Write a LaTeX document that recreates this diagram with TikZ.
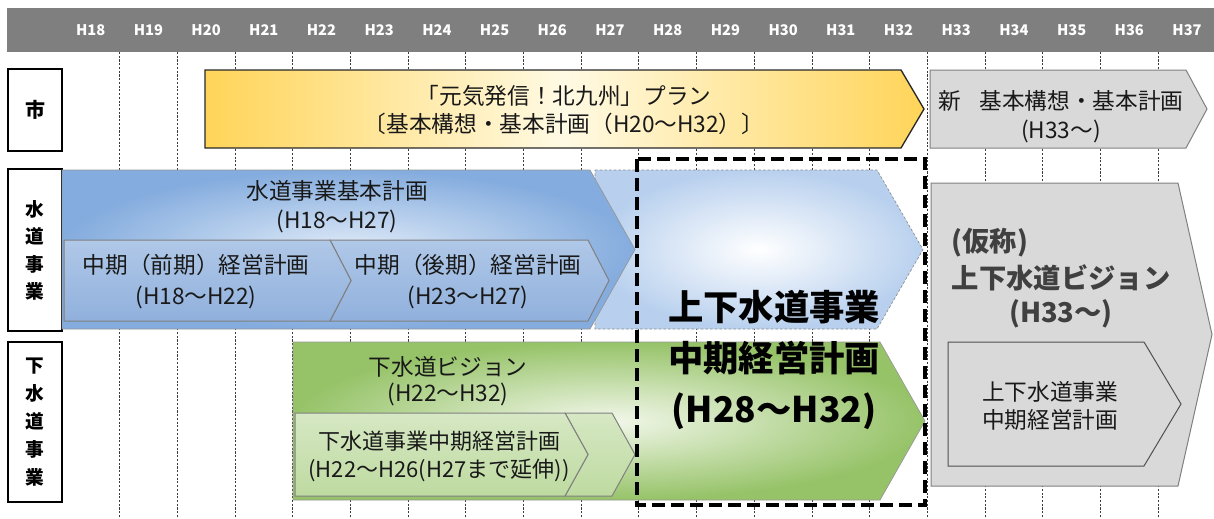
\documentclass[tikz,border=0pt]{standalone}
\usepackage{fontspec}
\setmainfont{Noto Sans CJK JP}

\tikzset{every picture/.style={line width=0.75pt}}
\tikzset{
  yearlbl/.style={text=white, font=\fontsize{11}{12}\selectfont\bfseries, inner sep=0.75pt},
  gridline/.style={color={rgb, 255:red, 60; green, 60; blue, 60}, line width=0.5pt, dash pattern={on 1.6pt off 1.2pt}},
  rowbox/.style={draw=black, line width=1.6pt, fill=white},
  rowtxt/.style={font=\fontsize{14}{20.5}\selectfont\bfseries, align=center, inner sep=0.75pt},
  plantxt/.style={font=\fontsize{17}{22}\selectfont, align=center, inner sep=0.75pt, text={rgb, 255:red, 25; green, 25; blue, 25}},
  bigtxt/.style={font=\fontsize{26.5}{38}\selectfont\bfseries, align=center, inner sep=0.75pt},
  visiontxt/.style={font=\fontsize{20.5}{25}\selectfont\bfseries, align=center, inner sep=0.75pt, text={rgb, 255:red, 64; green, 64; blue, 64}},
  edgegray/.style={draw={rgb, 255:red, 128; green, 128; blue, 128}, line width=0.75pt}
}

\begin{document}
\begin{tikzpicture}[x=0.75pt,y=0.75pt,yscale=-1,xscale=1]
\useasboundingbox (0,0) rectangle (1214,518);

%Shape: Rectangle [year bar]
\draw [draw=none, fill={rgb, 255:red, 127; green, 127; blue, 127}] (7,8) -- (1214,8) -- (1214,52) -- (7,52) -- cycle;

% Text Node
\draw (90.7,30) node [yearlbl] (h18) {H18};
% Text Node
\draw (148.4,30) node [yearlbl] (h19) {H19};
% Text Node
\draw (206.1,30) node [yearlbl] (h20) {H20};
% Text Node
\draw (263.8,30) node [yearlbl] (h21) {H21};
% Text Node
\draw (321.5,30) node [yearlbl] (h22) {H22};
% Text Node
\draw (379.2,30) node [yearlbl] (h23) {H23};
% Text Node
\draw (436.9,30) node [yearlbl] (h24) {H24};
% Text Node
\draw (494.6,30) node [yearlbl] (h25) {H25};
% Text Node
\draw (552.3,30) node [yearlbl] (h26) {H26};
% Text Node
\draw (610,30) node [yearlbl] (h27) {H27};
% Text Node
\draw (667.7,30) node [yearlbl] (h28) {H28};
% Text Node
\draw (725.4,30) node [yearlbl] (h29) {H29};
% Text Node
\draw (783.1,30) node [yearlbl] (h30) {H30};
% Text Node
\draw (840.8,30) node [yearlbl] (h31) {H31};
% Text Node
\draw (898.5,30) node [yearlbl] (h32) {H32};
% Text Node
\draw (956.2,30) node [yearlbl] (h33) {H33};
% Text Node
\draw (1013.9,30) node [yearlbl] (h34) {H34};
% Text Node
\draw (1071.6,30) node [yearlbl] (h35) {H35};
% Text Node
\draw (1129.3,30) node [yearlbl] (h36) {H36};
% Text Node
\draw (1187,30) node [yearlbl] (h37) {H37};

%Straight Lines [year grid]
\draw [gridline] (119.5,52) -- (119.5,518);
\draw [gridline] (177.2,52) -- (177.2,518);
\draw [gridline] (234.9,52) -- (234.9,518);
\draw [gridline] (292.6,52) -- (292.6,518);
\draw [gridline] (350.3,52) -- (350.3,518);
\draw [gridline] (408,52) -- (408,518);
\draw [gridline] (465.7,52) -- (465.7,518);
\draw [gridline] (523.4,52) -- (523.4,518);
\draw [gridline] (581.1,52) -- (581.1,518);
\draw [gridline] (638.8,52) -- (638.8,518);
\draw [gridline] (696.5,52) -- (696.5,518);
\draw [gridline] (754.2,52) -- (754.2,518);
\draw [gridline] (811.9,52) -- (811.9,518);
\draw [gridline] (869.6,52) -- (869.6,518);
\draw [gridline] (927.3,52) -- (927.3,518);
\draw [gridline] (985,52) -- (985,518);
\draw [gridline] (1042.7,52) -- (1042.7,518);
\draw [gridline] (1100.4,52) -- (1100.4,518);
\draw [gridline] (1158.1,52) -- (1158.1,518);

%Shape: Rectangle [row labels]
\draw [rowbox] (8,69) rectangle (62,151);
\draw [rowbox] (8,169) rectangle (62,331);
\draw [rowbox] (8,342) rectangle (62,502);
% Text Node
\draw (35,110) node [rowtxt, font=\fontsize{15}{20}\selectfont\bfseries] (shi) {市};
% Text Node
\draw (35,250.5) node [rowtxt] (suido) {水\\道\\事\\業};
% Text Node
\draw (35,422) node [rowtxt, font=\fontsize{14}{21}\selectfont\bfseries] (gesuido) {下\\水\\道\\事\\業};

%Shape: Pentagon [city plan]
\draw [draw={rgb, 255:red, 40; green, 40; blue, 40}, line width=1pt, left color={rgb, 255:red, 255; green, 212; blue, 88}, right color={rgb, 255:red, 255; green, 212; blue, 88}, middle color={rgb, 255:red, 255; green, 250; blue, 228}] (205,70) -- (901,70) -- (924,109) -- (901,148) -- (205,148) -- cycle;
% Text Node
\draw (564,110) node [plantxt, font=\fontsize{17}{21}\selectfont] (cityplan) {「元気発信！北九州」プラン\\〔基本構想・基本計画（H20～H32）〕};

%Shape: Pentagon [new city plan]
\draw [edgegray, fill={rgb, 255:red, 217; green, 217; blue, 217}] (930,70) -- (1186,70) -- (1207,109) -- (1186,148) -- (930,148) -- cycle;
% Text Node
\draw (1061,117) node [plantxt] (newplan) {新\hspace{0.8em}基本構想・基本計画\\(H33～)};

%Shape: Pentagon [water faded]
\draw [draw={rgb, 255:red, 140; green, 140; blue, 140}, line width=0.5pt, dash pattern={on 2pt off 1.5pt}, inner color=white, outer color={rgb, 255:red, 184; green, 208; blue, 238}] (595,170) -- (877,170) -- (923,249.5) -- (877,329) -- (595,329) -- cycle;

%Shape: Pentagon [water plan]
\draw [draw={rgb, 255:red, 150; green, 150; blue, 150}, line width=0.5pt, inner color={rgb, 255:red, 224; green, 235; blue, 248}, outer color={rgb, 255:red, 132; green, 172; blue, 222}] (62,170) -- (590,170) -- (635,249.5) -- (590,329) -- (62,329) -- cycle;
% Text Node
\draw (337,207) node [plantxt] (waterplan) {水道事業基本計画\\(H18～H27)};

%Shape: Chevron [water late]
\draw [edgegray, top color={rgb, 255:red, 176; green, 200; blue, 232}, bottom color={rgb, 255:red, 144; green, 176; blue, 220}] (330,240) -- (588,240) -- (609,280.5) -- (588,321) -- (330,321) -- (351,280.5) -- cycle;
%Shape: Pentagon [water early]
\draw [edgegray, top color={rgb, 255:red, 176; green, 200; blue, 232}, bottom color={rgb, 255:red, 144; green, 176; blue, 220}] (64,240) -- (330,240) -- (351,280.5) -- (330,321) -- (64,321) -- cycle;
% Text Node
\draw (196,281.5) node [plantxt, font=\fontsize{17}{23}\selectfont] (early) {中期（前期）経営計画\\(H18～H22)};
% Text Node
\draw (468,281.5) node [plantxt, font=\fontsize{17}{23}\selectfont] (late) {中期（後期）経営計画\\(H23～H27)};

%Shape: Pentagon [sewer vision]
\draw [draw={rgb, 255:red, 150; green, 150; blue, 150}, line width=0.5pt, inner color={rgb, 255:red, 242; green, 247; blue, 234}, outer color={rgb, 255:red, 150; green, 195; blue, 104}] (293,342) -- (880,342) -- (925,421) -- (880,500) -- (293,500) -- cycle;
% Text Node
\draw (448,381) node [plantxt, font=\fontsize{17}{19.5}\selectfont] (vision) {下水道ビジョン\\(H22～H32)};

%Shape: Chevron [sewer extension]
\draw [edgegray, top color={rgb, 255:red, 214; green, 232; blue, 196}, bottom color={rgb, 255:red, 190; green, 218; blue, 160}] (565,413) -- (612,413) -- (635,454.5) -- (612,496) -- (565,496) -- (588,454.5) -- cycle;
%Shape: Pentagon [sewer midterm]
\draw [edgegray, top color={rgb, 255:red, 214; green, 232; blue, 196}, bottom color={rgb, 255:red, 190; green, 218; blue, 160}] (295,413) -- (565,413) -- (588,454.5) -- (565,496) -- (295,496) -- cycle;
% Text Node
\draw (439,456.5) node [plantxt, font=\fontsize{16.5}{20.5}\selectfont] (sewermid) {下水道事業中期経営計画\\(H22～H26(H27まで延伸))};

% Text Node
\draw (774,360) node [bigtxt] (midterm) {上下水道事業\\中期経営計画\\(H28～H32)};

%Shape: Rectangle [focus frame]
\draw [line width=3pt, dash pattern={on 9.75pt off 4.5pt}] (637,159) rectangle (925,505);

%Shape: Pentagon [vision]
\draw [edgegray, fill={rgb, 255:red, 217; green, 217; blue, 217}] (931,183) -- (1178,183) -- (1212,334.5) -- (1178,486) -- (931,486) -- cycle;
% Text Node
\draw (950,243) node [visiontxt, anchor=west] (kasho) {(仮称)};
% Text Node
\draw (1061,296.5) node [visiontxt] (newvision) {上下水道ビジョン\\(H33～)};

%Shape: Pentagon [next midterm]
\draw [draw={rgb, 255:red, 80; green, 80; blue, 80}, line width=0.75pt, fill={rgb, 255:red, 217; green, 217; blue, 217}] (948,342) -- (1144,342) -- (1181,404) -- (1144,466) -- (948,466) -- cycle;
% Text Node
\draw (1050,406) node [plantxt, font=\fontsize{17}{21}\selectfont] (nextmid) {上下水道事業\\中期経営計画};

\end{tikzpicture}
\end{document}
